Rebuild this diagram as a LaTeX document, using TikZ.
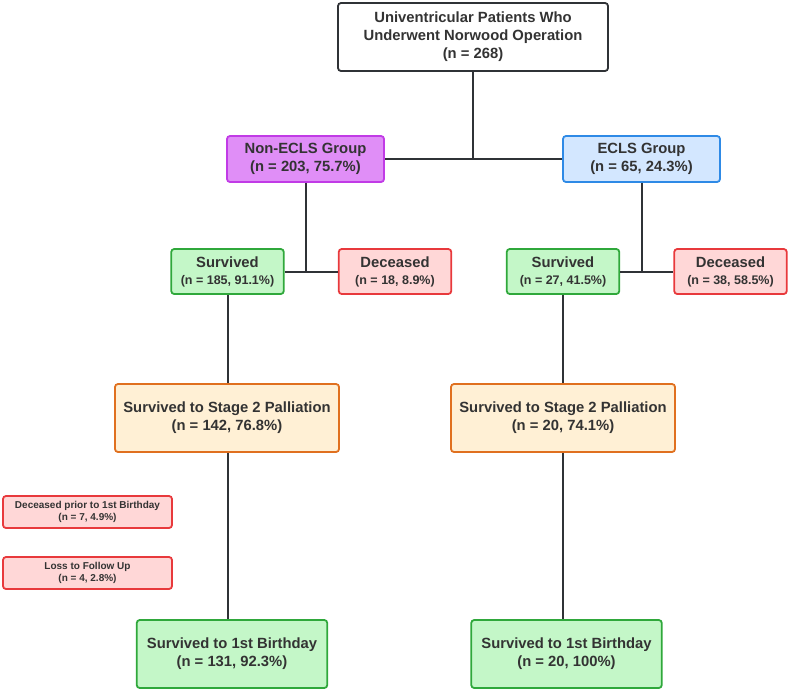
\documentclass[tikz,border=0pt]{standalone}
\usepackage{fontspec}
\setmainfont{Liberation Sans}
\usepackage{tikz}
\definecolor{Ink}{HTML}{333333}
\definecolor{Wire}{HTML}{2F3236}
\definecolor{PurpleFill}{HTML}{E08EF7}
\definecolor{PurpleLine}{HTML}{C13BE6}
\definecolor{BlueFill}{HTML}{D3E7FF}
\definecolor{BlueLine}{HTML}{2E8AE6}
\definecolor{GreenFill}{HTML}{C4F7C8}
\definecolor{GreenLine}{HTML}{2FA83B}
\definecolor{RedFill}{HTML}{FFD7D7}
\definecolor{RedLine}{HTML}{E8393C}
\definecolor{OrangeFill}{HTML}{FFF0D5}
\definecolor{OrangeLine}{HTML}{E0701F}

\begin{document}
\begin{tikzpicture}[x=1pt,y=-1pt,
    box/.style={draw,rounded corners=3pt,line width=1.8pt,align=center,text=Ink,
      inner sep=0pt,font=\fontsize{14.8}{18}\selectfont\bfseries},
    root/.style={box,draw=Wire,fill=white,minimum width=270pt,minimum height=68pt},
    group/.style={box,minimum width=157pt,minimum height=46pt},
    outcome/.style={box,minimum width=112.5pt,minimum height=45pt},
    stagebox/.style={box,draw=OrangeLine,fill=OrangeFill,minimum width=224pt,minimum height=68pt},
    bdaybox/.style={box,draw=GreenLine,fill=GreenFill,minimum width=190.5pt,minimum height=68pt},
    lossbox/.style={box,draw=RedLine,fill=RedFill,minimum width=169pt,minimum height=32pt,
      font=\fontsize{10}{12}\selectfont\bfseries},
    wire/.style={draw=Wire,line width=2pt}]
  \useasboundingbox (0,0) rectangle (790,691);
  \newcommand{\nline}[1]{\\[-1pt]{\fontsize{12.5}{15}\selectfont #1}}
  % top of the tree
  \node[root] (all) at (473,37) {Univentricular Patients Who\\Underwent Norwood Operation\\(n = 268)};
  \node[group,draw=PurpleLine,fill=PurpleFill] (nonecls) at (305.5,159) {Non-ECLS Group\\(n = 203, 75.7\%)};
  \node[group,draw=BlueLine,fill=BlueFill] (ecls) at (641.5,159) {ECLS Group\\(n = 65, 24.3\%)};
  % outcomes
  \node[outcome,draw=GreenLine,fill=GreenFill] (surv1) at (227.5,271.5) {Survived\nline{(n = 185, 91.1\%)}};
  \node[outcome,draw=RedLine,fill=RedFill] (dec1) at (395,271.5) {Deceased\nline{(n = 18, 8.9\%)}};
  \node[outcome,draw=GreenLine,fill=GreenFill] (surv2) at (563,271.5) {Survived\nline{(n = 27, 41.5\%)}};
  \node[outcome,draw=RedLine,fill=RedFill] (dec2) at (730.5,271.5) {Deceased\nline{(n = 38, 58.5\%)}};
  % stage 2 and first birthday
  \node[stagebox] (stage1) at (227,418) {Survived to Stage 2 Palliation\\(n = 142, 76.8\%)};
  \node[stagebox] (stage2) at (563,418) {Survived to Stage 2 Palliation\\(n = 20, 74.1\%)};
  \node[lossbox] (prior) at (87.5,512) {Deceased prior to 1st Birthday\\(n = 7, 4.9\%)};
  \node[lossbox] (loss) at (87.5,573) {Loss to Follow Up\\(n = 4, 2.8\%)};
  \node[bdaybox] (bday1) at (232,654) {Survived to 1st Birthday\\(n = 131, 92.3\%)};
  \node[bdaybox] (bday2) at (566.5,654) {Survived to 1st Birthday\\(n = 20, 100\%)};
  % connectors
  \draw[wire] (nonecls.east)--(ecls.west);
  \draw[wire] (all.south)--(all.south |- nonecls.east);
  \draw[wire] (surv1.east)--(dec1.west);
  \draw[wire] (nonecls.south)--(nonecls.south |- surv1.east);
  \draw[wire] (surv2.east)--(dec2.west);
  \draw[wire] (ecls.south)--(ecls.south |- surv2.east);
  \draw[wire] (surv1.south)--(surv1.south |- stage1.north);
  \draw[wire] (surv1.south |- stage1.south)--(surv1.south |- bday1.north);
  \draw[wire] (surv2.south)--(surv2.south |- stage2.north);
  \draw[wire] (surv2.south |- stage2.south)--(surv2.south |- bday2.north);
\end{tikzpicture}
\end{document}
